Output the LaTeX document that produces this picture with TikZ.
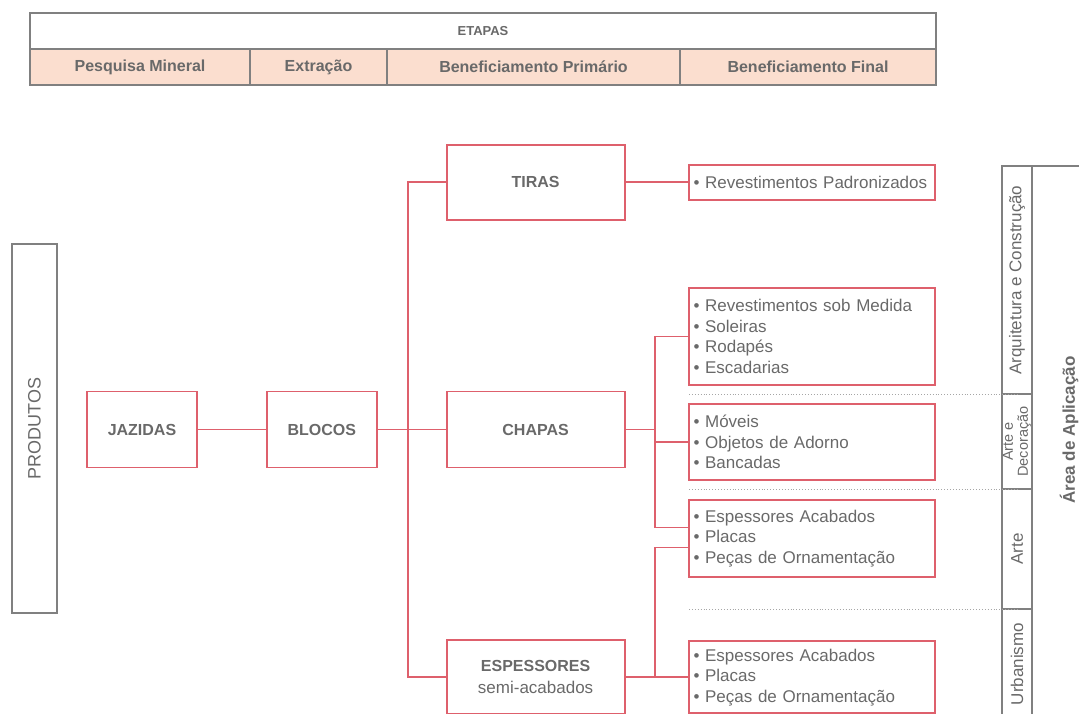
\documentclass[tikz,border=0pt]{standalone}
\usepackage{fontspec}
\setmainfont{Liberation Sans}
\usepackage{xcolor}
\usetikzlibrary{positioning}
\definecolor{rochared}{RGB}{222,96,108}
\definecolor{rochagray}{RGB}{128,128,128}
\definecolor{rochatext}{RGB}{105,105,105}
\definecolor{rochapeach}{RGB}{251,222,207}
\tikzset{
  stagecell/.style={draw=rochagray, line width=1.8pt, fill=rochapeach, minimum height=36pt, outer sep=0pt, inner sep=0pt, font=\fontsize{16}{18}\selectfont\bfseries, text=rochatext},
  prodbox/.style={draw=rochared, line width=1.8pt, minimum width=178pt, minimum height=76pt, align=center, font=\fontsize{16}{22}\selectfont\bfseries, text=rochatext},
  listbox/.style={draw=rochared, line width=1.8pt, text width=237pt, inner xsep=4.5pt, minimum width=246pt, align=left, font=\fontsize{17}{20.5}\selectfont, text=rochatext},
  areacell/.style={draw=rochagray, line width=1.5pt, rotate=90, minimum height=30pt, inner sep=0pt, outer sep=0pt, align=center, font=\fontsize{17}{18}\selectfont, text=rochatext},
  link/.style={draw=rochared, line width=1.8pt},
  sepline/.style={rochagray!70, line width=0.9pt, dotted},
}
\newcommand{\itm}{\textbullet\ }

\begin{document}
\begin{tikzpicture}[x=1pt, y=-1pt]
  \useasboundingbox (0,0) rectangle (1079,713);

  % etapas
  \node[stagecell, fill=white, minimum width=906pt, font=\fontsize{13}{16}\selectfont\bfseries] (etapas) at (483,31) {ETAPAS};
  \node[stagecell, minimum width=220pt, below=0pt of etapas.south west, anchor=north west] (pesq) {Pesquisa Mineral};
  \node[stagecell, minimum width=137pt, right=0pt of pesq] (extr) {Extração};
  \node[stagecell, minimum width=293pt, right=0pt of extr] (benp) {Beneficiamento Primário};
  \node[stagecell, minimum width=256pt, right=0pt of benp] (benf) {Beneficiamento Final};

  % produtos
  \node[draw=rochagray, line width=1.8pt, rotate=90, minimum width=369pt, minimum height=45pt,
        font=\fontsize{18}{20}\selectfont, text=rochatext] (produtos) at (34.5,428.5) {PRODUTOS};
  \node[prodbox, minimum width=110pt] (jazidas) at (142,429.5) {JAZIDAS};
  \node[prodbox, minimum width=110pt, right=68pt of jazidas] (blocos) {BLOCOS};
  \node[prodbox, right=68pt of blocos] (chapas) {CHAPAS};
  \node[prodbox, minimum height=75pt, above=170pt of chapas] (tiras) {TIRAS};
  \node[prodbox, minimum height=74pt, below=171pt of chapas] (espessores)
    {ESPESSORES\\{\mdseries\fontsize{17}{20}\selectfont semi-acabados}};

  % usos
  \node[listbox, minimum height=97pt] (medida) at (812,336.5)
    {\itm Revestimentos sob Medida\\\itm Soleiras\\\itm Rodapés\\\itm Escadarias};
  \node[listbox, minimum height=35pt] (padron) at (tiras -| medida) {\itm Revestimentos Padronizados};
  \node[listbox, minimum height=76pt] (moveis) at (812,442)
    {\itm Móveis\\\itm Objetos de Adorno\\\itm Bancadas};
  \node[listbox, minimum height=77pt] (acab1) at (812,538.5)
    {\itm Espessores Acabados\\\itm Placas\\\itm Peças de Ornamentação};
  \node[listbox, minimum height=72pt] (acab2) at (espessores -| medida)
    {\itm Espessores Acabados\\\itm Placas\\\itm Peças de Ornamentação};

  % area de aplicacao
  \node[areacell, minimum width=228pt] (arq) at (1017,280) {Arquitetura e Construção};
  \node[areacell, minimum width=95pt, font=\fontsize{14.5}{15}\selectfont] (artedec) at (1017,441.5) {Arte e\\Decoração};
  \node[areacell, minimum width=120pt] (arte) at (1017,549) {Arte};
  \node[areacell, minimum width=110pt] (urb) at (1017,664) {Urbanismo};
  \node[draw=rochagray, line width=1.5pt, rotate=90, minimum width=553pt, minimum height=80pt] (areacol) at (1072,442.5) {};
  \node[rotate=90, font=\fontsize{17}{20}\selectfont\bfseries, text=rochatext] (arealbl) at (1069,430) {Área de Aplicação};

  % ligacoes
  \coordinate (trunk) at (408,0);
  \coordinate (fork) at (655,0);
  \coordinate (acab1top) at ([yshift=11pt]acab1.west);
  \coordinate (acab1bot) at ([yshift=-9pt]acab1.west);
  \draw[link] (jazidas) -- (blocos);
  \draw[link] (blocos) -- (chapas);
  \draw[link] (tiras.west) -- (tiras.west -| trunk) -- (espessores.west -| trunk) -- (espessores.west);
  \draw[link] (tiras) -- (padron);
  \draw[link] (chapas.east) -- (chapas.east -| fork);
  \draw[link] (medida.west) -- (medida.west -| fork) -- (fork |- acab1top) -- (acab1top);
  \draw[link] (moveis.west) -- (moveis.west -| fork);
  \draw[link] (espessores) -- (acab2);
  \draw[link] (espessores.east -| fork) -- (fork |- acab1bot) -- (acab1bot);

  % separadores
  \draw[sepline] (689,394) -- (arq.west);
  \draw[sepline] (689,489) -- (arte.east);
  \draw[sepline] (689,609) -- (urb.east);
\end{tikzpicture}
\end{document}
